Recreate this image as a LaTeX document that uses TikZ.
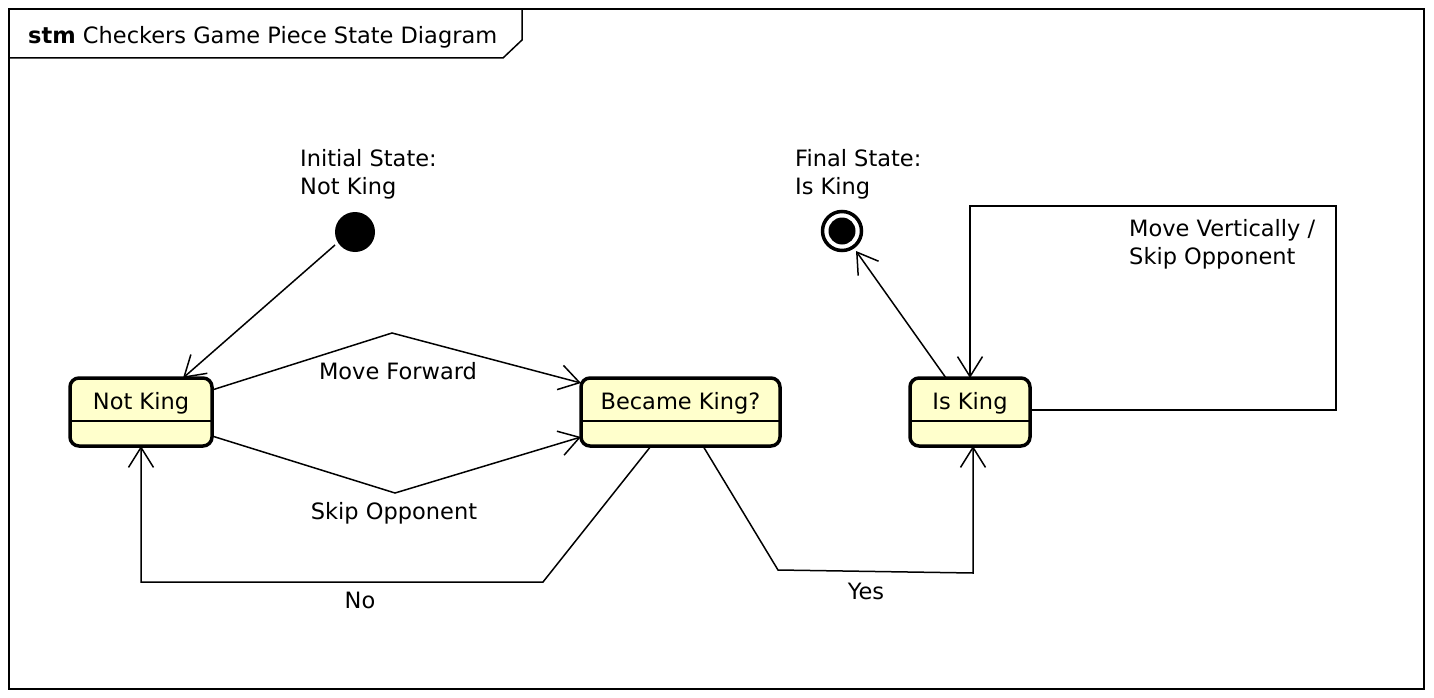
\documentclass[tikz,border=0pt]{standalone}
\usepackage{fontspec}
\setmainfont{DejaVu Sans}
\usetikzlibrary{arrows.meta}
\definecolor{stfill}{HTML}{FFFFCC}
\begin{document}
\begin{tikzpicture}[x=1pt,y=-1pt,
  lbl/.style={font=\fontsize{22.5}{28}\selectfont, inner sep=0pt, align=left},
  conn/.style={line width=1.5pt, -{Straight Barb[length=20pt,width=25pt,line width=1.5pt]}},
  stbox/.style={draw, line width=3.5pt, rounded corners=9pt, fill=stfill}]
\useasboundingbox (0,0) rectangle (1434,698);
% frame
\draw[line width=1.5pt] (9,9) rectangle (1424,689);
\draw[line width=1.5pt] (9,58) -- (503,58) -- (522,40) -- (522,9);
\node[lbl, anchor=west] (title) at (28,37) {\textbf{stm} Checkers Game Piece State Diagram};
% states
\node[stbox, minimum width=142pt, minimum height=68pt] (nk) at (141,412) {};
\draw[line width=1.5pt] (70,421) -- (212,421);
\node[lbl] (nkt) at (141,403) {Not King};
\node[stbox, minimum width=199pt, minimum height=68pt] (bk) at (680.5,412) {};
\draw[line width=1.5pt] (581,421) -- (780,421);
\node[lbl] (bkt) at (680.5,403) {Became King?};
\node[stbox, minimum width=120pt, minimum height=68pt] (ik) at (970,412) {};
\draw[line width=1.5pt] (910,421) -- (1030,421);
\node[lbl] (ikt) at (970,403) {Is King};
% pseudo states
\node[circle, fill=black, minimum size=40pt, inner sep=0pt] (init) at (355,232) {};
\node[circle, draw, line width=3.5pt, fill=white, minimum size=39pt, inner sep=0pt] (fin) at (842,231) {};
\node[circle, fill=black, minimum size=27pt, inner sep=0pt] (finin) at (842,231) {};
% labels
\node[lbl, anchor=north west] (il) at (300,149) {Initial State:\\Not King};
\node[lbl, anchor=north west] (fl) at (795,149) {Final State:\\Is King};
% connectors
\coordinate (a1) at (335,245);
\coordinate (a2) at (183,378);
\draw[conn] (a1) -- (a2);
\coordinate (m0) at (212,390);
\coordinate (m1) at (392,333);
\coordinate (m2) at (581,383);
\draw[conn] (m0) -- (m1) -- (m2);
\node[lbl] (mfl) at (398,371) {Move Forward};
\coordinate (s0) at (212,436);
\coordinate (s1) at (395,493);
\coordinate (s2) at (581,437);
\draw[conn] (s0) -- (s1) -- (s2);
\node[lbl] (sol) at (394,513) {Skip Opponent};
\coordinate (n0) at (651,446);
\coordinate (n1) at (543,582);
\coordinate (n2) at (141,582);
\coordinate (n3) at (141,446);
\draw[conn] (n0) -- (n1) -- (n2) -- (n3);
\node[lbl] (nol) at (360,600) {No};
\coordinate (y0) at (703,446);
\coordinate (y1) at (778,570);
\coordinate (y2) at (973,573);
\coordinate (y3) at (973,446);
\draw[conn] (y0) -- (y1) -- (y2) -- (y3);
\node[lbl] (yel) at (866,591) {Yes};
\coordinate (f0) at (946,378);
\coordinate (f1) at (856,251);
\draw[conn] (f0) -- (f1);
\coordinate (l0) at (1030,410);
\coordinate (l1) at (1336,410);
\coordinate (l2) at (1336,206);
\coordinate (l3) at (970,206);
\coordinate (l4) at (970,378);
\draw[conn] (l0) -- (l1) -- (l2) -- (l3) -- (l4);
\node[lbl, anchor=north west] (mvl) at (1129,219) {Move Vertically /\\Skip Opponent};
\end{tikzpicture}
\end{document}
